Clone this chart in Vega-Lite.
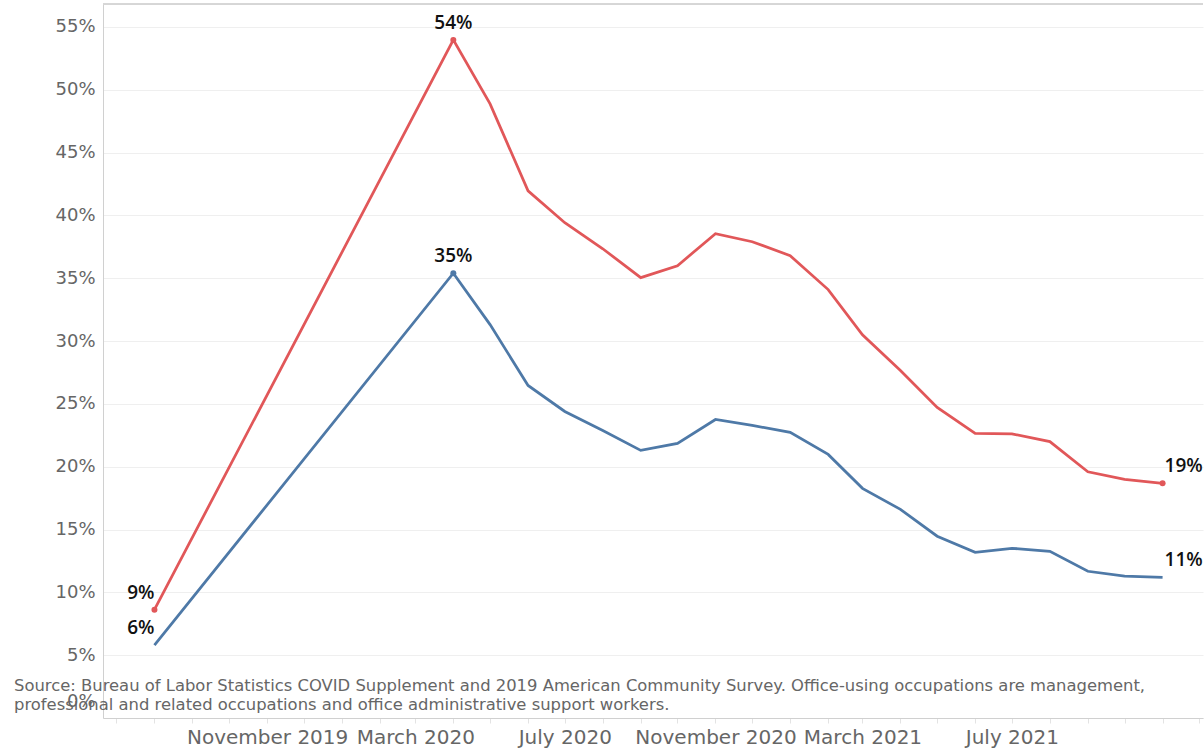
{
  "$schema": "https://vega.github.io/schema/vega-lite/v6.json",
  "width": 1204,
  "height": 750,
  "autosize": {"type": "fit", "contains": "padding"},
  "padding": {"left": 14, "top": 3, "right": 0, "bottom": 3},
  "background": "white",
  "config": {
    "font": "DejaVu Sans",
    "view": {"stroke": null}
  },
  "title": {
    "text": [
      "Source: Bureau of Labor Statistics COVID Supplement and 2019 American Community Survey. Office-using occupations are management,",
      "professional and related occupations and office administrative support workers."
    ],
    "orient": "bottom",
    "anchor": "start",
    "frame": "group",
    "offset": 0,
    "dx": -89,
    "dy": -69,
    "fontSize": 16.4,
    "fontWeight": "normal",
    "color": "#666666",
    "lineHeight": 19,
    "font": "DejaVu Sans"
  },
  "data": {
    "values": [
      {"series": "Office-using occupations", "date": "2019-08-01T00:00:00", "value": 0.0862},
      {"series": "Office-using occupations", "date": "2020-04-01T00:00:00", "value": 0.5397},
      {"series": "Office-using occupations", "date": "2020-05-01T00:00:00", "value": 0.4888},
      {"series": "Office-using occupations", "date": "2020-06-01T00:00:00", "value": 0.4196},
      {"series": "Office-using occupations", "date": "2020-07-01T00:00:00", "value": 0.3942},
      {"series": "Office-using occupations", "date": "2020-08-01T00:00:00", "value": 0.3735},
      {"series": "Office-using occupations", "date": "2020-09-01T00:00:00", "value": 0.3505},
      {"series": "Office-using occupations", "date": "2020-10-01T00:00:00", "value": 0.3600},
      {"series": "Office-using occupations", "date": "2020-11-01T00:00:00", "value": 0.3855},
      {"series": "Office-using occupations", "date": "2020-12-01T00:00:00", "value": 0.3791},
      {"series": "Office-using occupations", "date": "2021-01-01T00:00:00", "value": 0.3680},
      {"series": "Office-using occupations", "date": "2021-02-01T00:00:00", "value": 0.3410},
      {"series": "Office-using occupations", "date": "2021-03-01T00:00:00", "value": 0.3050},
      {"series": "Office-using occupations", "date": "2021-04-01T00:00:00", "value": 0.2766},
      {"series": "Office-using occupations", "date": "2021-05-01T00:00:00", "value": 0.2472},
      {"series": "Office-using occupations", "date": "2021-06-01T00:00:00", "value": 0.2265},
      {"series": "Office-using occupations", "date": "2021-07-01T00:00:00", "value": 0.2262},
      {"series": "Office-using occupations", "date": "2021-08-01T00:00:00", "value": 0.2200},
      {"series": "Office-using occupations", "date": "2021-09-01T00:00:00", "value": 0.1960},
      {"series": "Office-using occupations", "date": "2021-10-01T00:00:00", "value": 0.1900},
      {"series": "Office-using occupations", "date": "2021-11-01T00:00:00", "value": 0.1868},
      {"series": "All occupations", "date": "2019-08-01T00:00:00", "value": 0.0580},
      {"series": "All occupations", "date": "2020-04-01T00:00:00", "value": 0.3540},
      {"series": "All occupations", "date": "2020-05-01T00:00:00", "value": 0.3131},
      {"series": "All occupations", "date": "2020-06-01T00:00:00", "value": 0.2647},
      {"series": "All occupations", "date": "2020-07-01T00:00:00", "value": 0.2440},
      {"series": "All occupations", "date": "2020-08-01T00:00:00", "value": 0.2289},
      {"series": "All occupations", "date": "2020-09-01T00:00:00", "value": 0.2130},
      {"series": "All occupations", "date": "2020-10-01T00:00:00", "value": 0.2186},
      {"series": "All occupations", "date": "2020-11-01T00:00:00", "value": 0.2376},
      {"series": "All occupations", "date": "2020-12-01T00:00:00", "value": 0.2329},
      {"series": "All occupations", "date": "2021-01-01T00:00:00", "value": 0.2273},
      {"series": "All occupations", "date": "2021-02-01T00:00:00", "value": 0.2098},
      {"series": "All occupations", "date": "2021-03-01T00:00:00", "value": 0.1828},
      {"series": "All occupations", "date": "2021-04-01T00:00:00", "value": 0.1661},
      {"series": "All occupations", "date": "2021-05-01T00:00:00", "value": 0.1447},
      {"series": "All occupations", "date": "2021-06-01T00:00:00", "value": 0.1319},
      {"series": "All occupations", "date": "2021-07-01T00:00:00", "value": 0.1351},
      {"series": "All occupations", "date": "2021-08-01T00:00:00", "value": 0.1327},
      {"series": "All occupations", "date": "2021-09-01T00:00:00", "value": 0.1168},
      {"series": "All occupations", "date": "2021-10-01T00:00:00", "value": 0.1129},
      {"series": "All occupations", "date": "2021-11-01T00:00:00", "value": 0.1120}
    ]
  },
  "encoding": {
    "x": {
      "field": "date",
      "type": "temporal",
      "title": null,
      "scale": {
        "domain": [
          {"year": 2019, "month": 6, "date": 20},
          {"year": 2021, "month": 12, "date": 4}
        ]
      },
      "axis": {
        "values": [
          {"year": 2019, "month": 7, "date": 1}, {"year": 2019, "month": 8, "date": 1}, {"year": 2019, "month": 9, "date": 1},
          {"year": 2019, "month": 10, "date": 1}, {"year": 2019, "month": 11, "date": 1}, {"year": 2019, "month": 12, "date": 1},
          {"year": 2020, "month": 1, "date": 1}, {"year": 2020, "month": 2, "date": 1}, {"year": 2020, "month": 3, "date": 1},
          {"year": 2020, "month": 4, "date": 1}, {"year": 2020, "month": 5, "date": 1}, {"year": 2020, "month": 6, "date": 1},
          {"year": 2020, "month": 7, "date": 1}, {"year": 2020, "month": 8, "date": 1}, {"year": 2020, "month": 9, "date": 1},
          {"year": 2020, "month": 10, "date": 1}, {"year": 2020, "month": 11, "date": 1}, {"year": 2020, "month": 12, "date": 1},
          {"year": 2021, "month": 1, "date": 1}, {"year": 2021, "month": 2, "date": 1}, {"year": 2021, "month": 3, "date": 1},
          {"year": 2021, "month": 4, "date": 1}, {"year": 2021, "month": 5, "date": 1}, {"year": 2021, "month": 6, "date": 1},
          {"year": 2021, "month": 7, "date": 1}, {"year": 2021, "month": 8, "date": 1}, {"year": 2021, "month": 9, "date": 1},
          {"year": 2021, "month": 10, "date": 1}, {"year": 2021, "month": 11, "date": 1}, {"year": 2021, "month": 12, "date": 1}
        ],
        "format": "%B %Y",
        "labelExpr": "(month(datum.value) % 4 == 2 && time(datum.value) > time(datetime(2019, 8, 1)) && time(datum.value) < time(datetime(2021, 8, 1))) ? datum.label : ''",
        "labelOverlap": false,
        "labelFont": "DejaVu Sans",
        "labelFontSize": 20,
        "labelColor": "#666666",
        "labelPadding": 4,
        "tickSize": 5,
        "tickColor": "#e3e3e3",
        "domain": true,
        "domainColor": "#d0d0d0",
        "grid": false
      }
    },
    "y": {
      "field": "value",
      "type": "quantitative",
      "title": null,
      "scale": {"domain": [0, 0.5683], "nice": false, "zero": false},
      "axis": {
        "values": [0, 0.05, 0.1, 0.15, 0.2, 0.25, 0.3, 0.35, 0.4, 0.45, 0.5, 0.55],
        "format": ".0%",
        "labelFont": "DejaVu Sans",
        "labelFontSize": 18,
        "labelColor": "#666666",
        "labelPadding": 8,
        "labelFlush": true,
        "labelFlushOffset": -8,
        "ticks": false,
        "grid": true,
        "gridColor": "#efefef",
        "gridWidth": 1,
        "domain": true,
        "domainColor": "#d0d0d0"
      }
    },
    "color": {
      "field": "series",
      "type": "nominal",
      "scale": {"domain": ["Office-using occupations", "All occupations"], "range": ["#e15759", "#4e79a7"]},
      "legend": null
    }
  },
  "layer": [
    {
      "mark": {"type": "rule", "color": "#d6d6d6", "strokeWidth": 1},
      "encoding": {"y": {"datum": 0.5683, "type": "quantitative"}, "x": null, "color": null}
    },
    {"mark": {"type": "line", "strokeWidth": 2.75}},
    {
      "transform": [{"filter": "(year(datum.date) == 2020 && month(datum.date) == 3) || (datum.series == 'Office-using occupations' && (year(datum.date) == 2019 || (year(datum.date) == 2021 && month(datum.date) == 10)))"}],
      "mark": {"type": "point", "filled": true, "size": 36, "opacity": 1}
    },
    {
      "transform": [{"filter": "year(datum.date) == 2019"}],
      "mark": {"type": "text", "font": "Open Sans", "align": "right", "baseline": "middle", "dx": 0, "dy": -17, "fontSize": 19, "fontWeight": 600},
      "encoding": {"text": {"field": "value", "type": "quantitative", "format": ".0%"}, "color": {"value": "#111111"}}
    },
    {
      "transform": [{"filter": "year(datum.date) == 2020 && month(datum.date) == 3"}],
      "mark": {"type": "text", "font": "Open Sans", "align": "center", "baseline": "middle", "dy": -17, "fontSize": 19, "fontWeight": 600},
      "encoding": {"text": {"field": "value", "type": "quantitative", "format": ".0%"}, "color": {"value": "#111111"}}
    },
    {
      "transform": [{"filter": "year(datum.date) == 2021 && month(datum.date) == 10"}],
      "mark": {"type": "text", "font": "Open Sans", "align": "left", "baseline": "middle", "dx": 2, "dy": -17, "fontSize": 19, "fontWeight": 600},
      "encoding": {"text": {"field": "value", "type": "quantitative", "format": ".0%"}, "color": {"value": "#111111"}}
    }
  ]
}
